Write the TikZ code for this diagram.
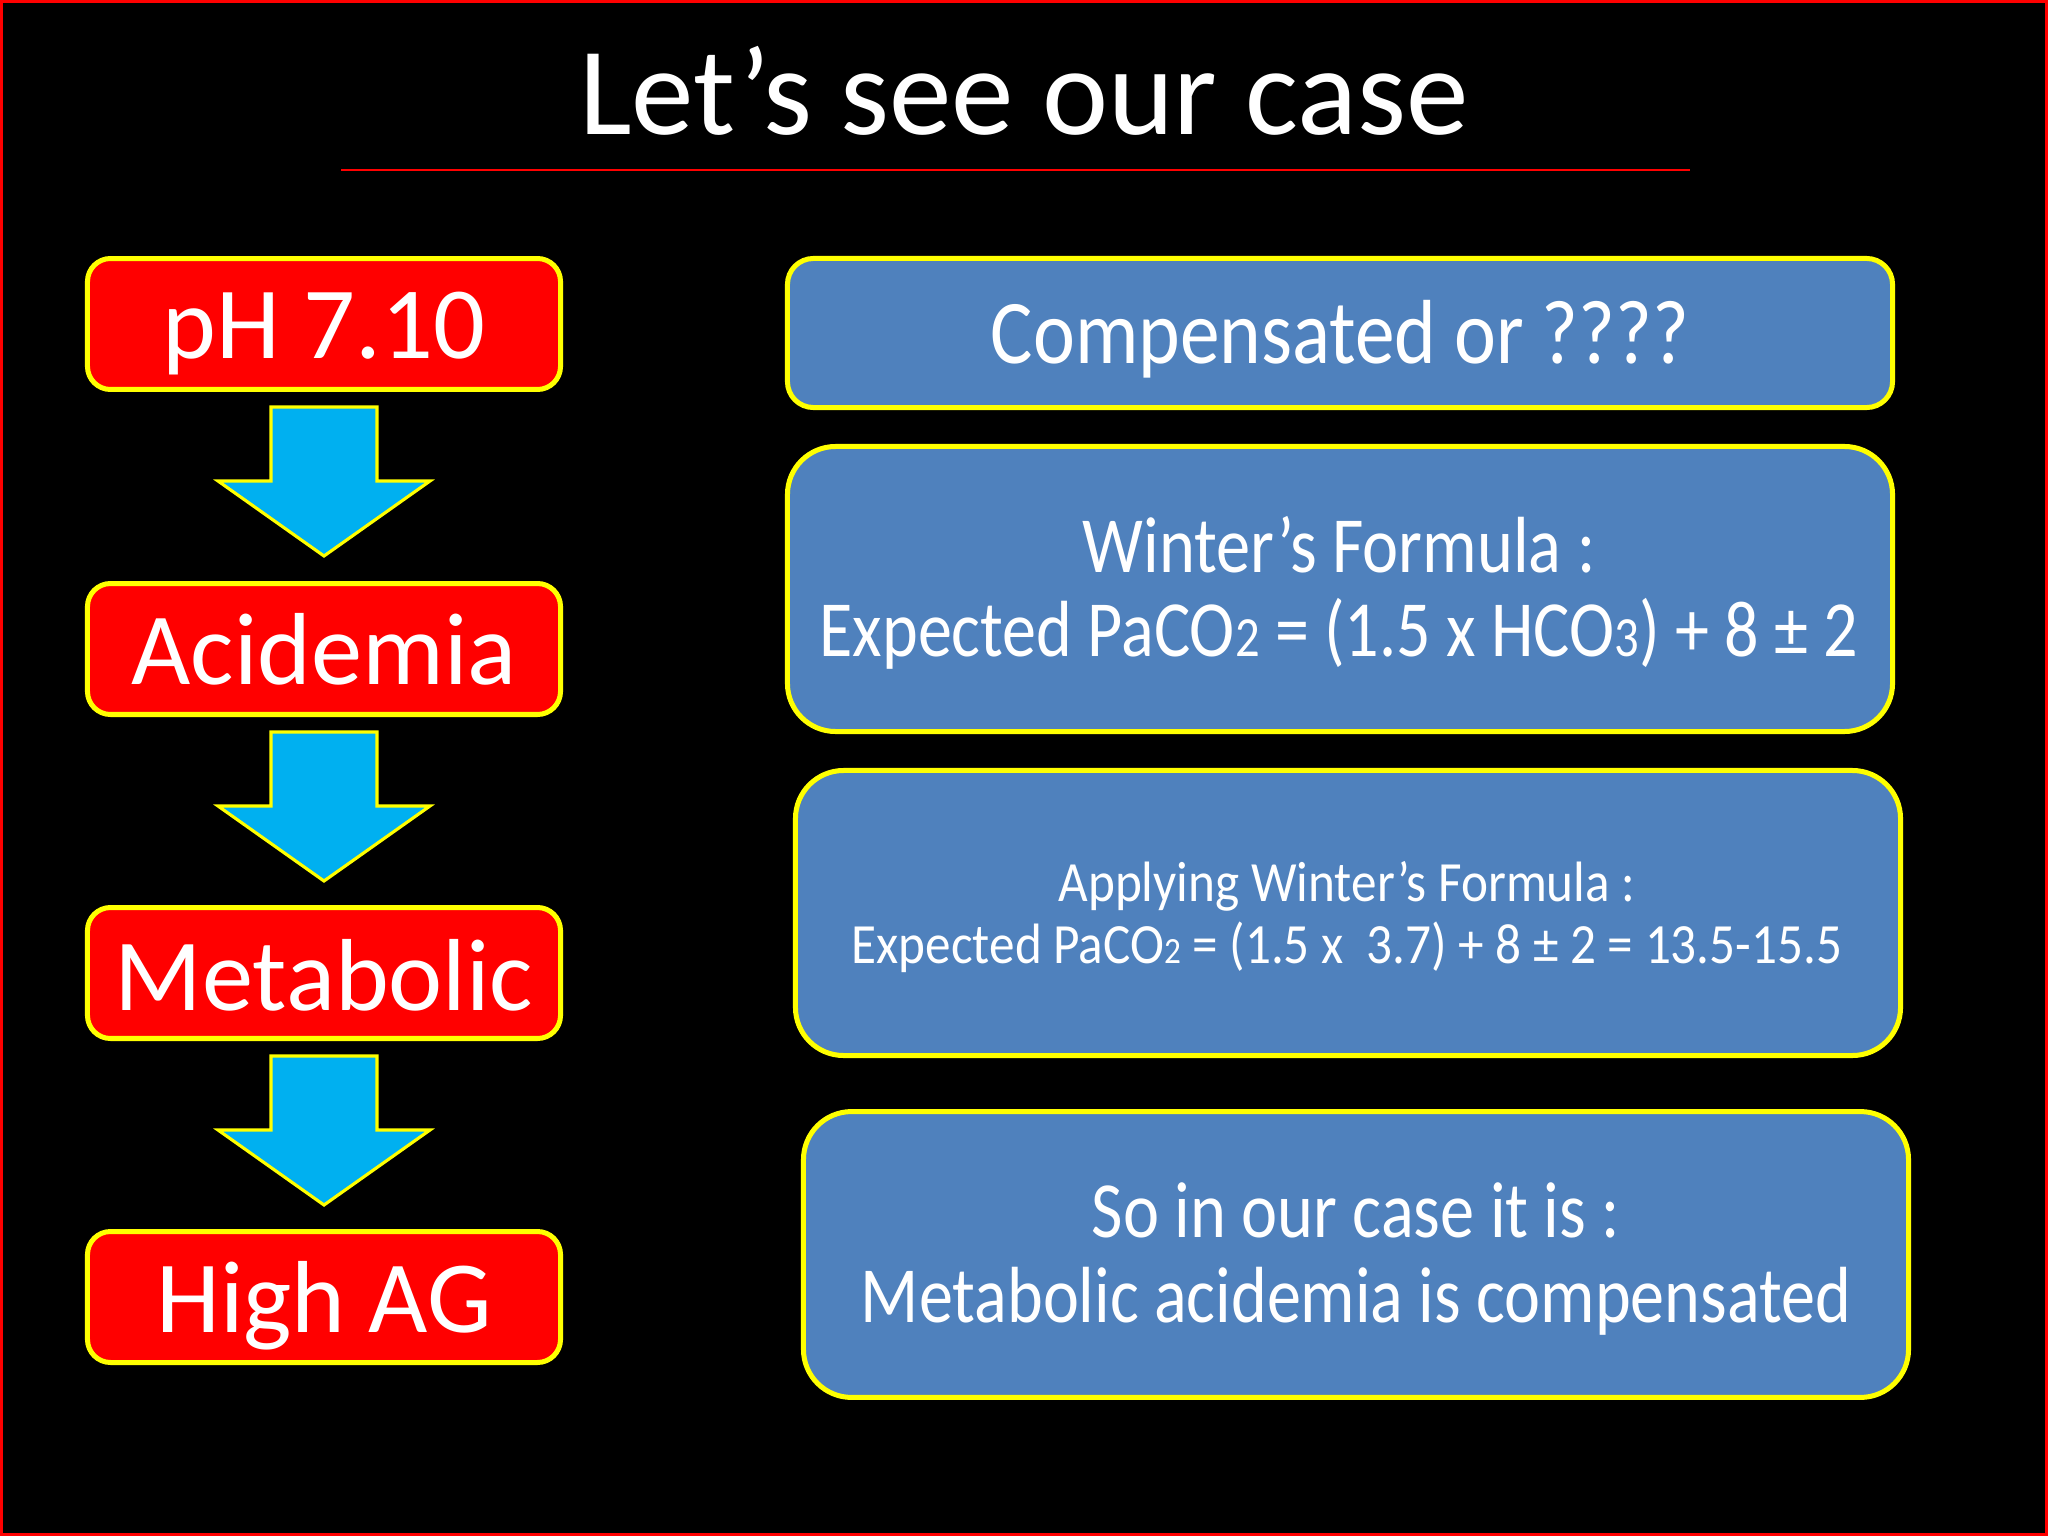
\documentclass[tikz,border=0pt]{standalone}
\usepackage{fontspec}
\setmainfont{Carlito}
\usetikzlibrary{calc}
\definecolor{slidered}{HTML}{FF0000}
\definecolor{slideyellow}{HTML}{FFFF00}
\definecolor{slideblue}{HTML}{4F81BD}
\definecolor{slidecyan}{HTML}{00B0F0}
\newcommand{\subsm}[2]{{\fontsize{#1}{#1}\selectfont #2}}
\newcommand{\narrow}[2]{\scalebox{#1}[1]{#2}}
\tikzset{
  redbox/.style={draw=slideyellow, fill=slidered, line width=1.76bp, rounded corners=8.1bp,
    minimum width=166.3bp, minimum height=46.05bp, inner sep=0pt},
  bluebox/.style={draw=slideyellow, fill=slideblue, line width=1.76bp,
    minimum width=388.5bp, inner sep=0pt},
  redtext/.style={anchor=base, text=white, inner sep=0pt, font=\fontsize{36bp}{43bp}\selectfont},
  bluetext/.style={anchor=base, text=white, inner sep=0pt},
  downarrow/.style={draw=slideyellow, fill=slidecyan, line width=1.1bp, line join=miter},
}
\begin{document}
\begin{tikzpicture}[x=0.3515625bp, y=-0.3515625bp]
\useasboundingbox (0,0) rectangle (2048,1536);
\fill[black] (0,0) rectangle (2048,1536);
\draw[slidered, line width=1.05bp] (1.5,1.5) rectangle (2046.5,1534.5);

% title
\node[anchor=base, text=white, inner sep=0pt, font=\fontsize{44bp}{52bp}\selectfont] (title) at (1024,135) {Let’s see our case};
\coordinate (ulA) at (341,170);
\coordinate (ulB) at (1690,170);
\draw[slidered, line width=1.05bp] (ulA) -- (ulB);

% left column
\node[redbox] (ph) at (324,324) {};
\node[redbox] (acid) at (324,649) {};
\node[redbox] (meta) at (324,973) {};
\node[redbox] (hag) at (324,1297) {};
\node[redtext] (phT) at ($(ph.center)+(0,35)$) {pH 7.10};
\node[redtext] (acidT) at ($(acid.center)+(0,35)$) {Acidemia};
\node[redtext] (metaT) at ($(meta.center)+(0,37)$) {Metabolic};
\node[redtext] (hagT) at ($(hag.center)+(0,35)$) {High AG};

\foreach \a in {ph,acid,meta}{
  \draw[downarrow] ($(\a.center)+(-53,83)$) -- ($(\a.center)+(53,83)$) -- ($(\a.center)+(53,157)$)
    -- ($(\a.center)+(106,157)$) -- ($(\a.center)+(0,232)$) -- ($(\a.center)+(-106,157)$)
    -- ($(\a.center)+(-53,157)$) -- cycle;
}

% right column
\node[bluebox, minimum height=52.4bp, rounded corners=9.1bp] (b1) at (1340,333) {};
\node[bluebox, minimum height=100.2bp, rounded corners=16.9bp] (b2) at (1340,589) {};
\node[bluebox, minimum height=100.2bp, rounded corners=16.9bp] (b3) at (1348,913) {};
\node[bluebox, minimum height=100.5bp, rounded corners=16.9bp] (b4) at (1356,1254.5) {};

\node[bluetext, font=\fontsize{32bp}{38bp}\selectfont] (b1T) at ($(b1.center)+(0,30)$) {\narrow{0.872}{Compensated or ????}};

\node[bluetext, font=\fontsize{28bp}{34bp}\selectfont] (b2T1) at ($(b2.center)+(-1,-17)$) {\narrow{0.858}{Winter’s Formula :}};
\node[bluetext, font=\fontsize{28bp}{34bp}\selectfont] (b2T2) at ($(b2.center)+(-1,67)$) {\narrow{0.855}{Expected PaCO\subsm{20bp}{2} = (1.5 x HCO\subsm{20bp}{3}) + 8 ± 2}};

\node[bluetext, font=\fontsize{20bp}{24bp}\selectfont] (b3T1) at ($(b3.center)+(-1,-12)$) {\narrow{0.90}{Applying Winter’s Formula :}};
\node[bluetext, font=\fontsize{20bp}{24bp}\selectfont] (b3T2) at ($(b3.center)+(-1,50)$) {\narrow{0.90}{Expected PaCO\subsm{13bp}{2} = (1.5 x\ \ 3.7) + 8 ± 2 = 13.5-15.5}};

\node[bluetext, font=\fontsize{28bp}{34bp}\selectfont] (b4T1) at ($(b4.center)+(0,-17.5)$) {\narrow{0.858}{So in our case it is :}};
\node[bluetext, font=\fontsize{28bp}{34bp}\selectfont] (b4T2) at ($(b4.center)+(0,67.5)$) {\narrow{0.855}{Metabolic acidemia is compensated}};
\end{tikzpicture}
\end{document}
